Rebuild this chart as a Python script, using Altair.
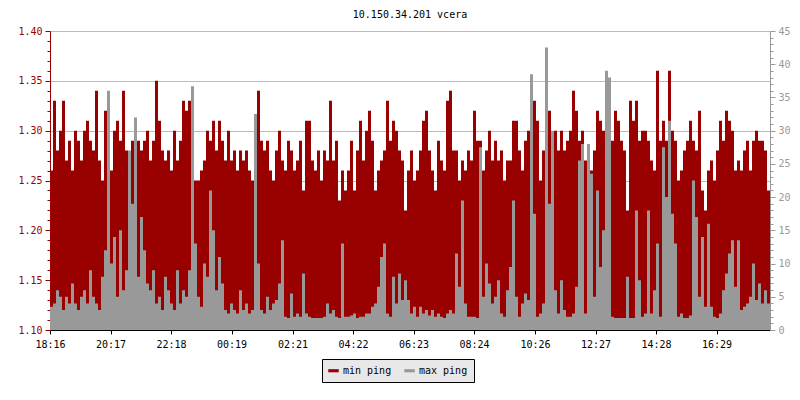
import altair as alt
import pandas as pd

MONO = "DejaVu Sans Mono"
RED = "#990000"
GREY = "#999999"

tick_minutes = [0, 121, 242, 363, 485, 606, 727, 848, 970, 1091, 1212, 1333]
tick_labels = ["18:16", "20:17", "22:18", "00:19", "02:21", "04:22",
               "06:23", "08:24", "10:26", "12:27", "14:28", "16:29"]

sample_step_min = 6

min_ping = [
    1.26, 1.33, 1.28, 1.30, 1.33, 1.27, 1.29, 1.26, 1.30, 1.29, 1.27, 1.30, 1.31, 1.29, 1.28, 1.34, 1.27, 1.25, 1.32, 1.29,
    1.26, 1.30, 1.31, 1.29, 1.34, 1.28, 1.27, 1.29, 1.26, 1.29, 1.28, 1.29, 1.30, 1.27, 1.29, 1.35, 1.31, 1.28, 1.27, 1.28,
    1.26, 1.30, 1.27, 1.29, 1.33, 1.32, 1.33, 1.27, 1.25, 1.25, 1.26, 1.27, 1.30, 1.29, 1.31, 1.28, 1.31, 1.29, 1.27, 1.30,
    1.27, 1.28, 1.26, 1.28, 1.27, 1.28, 1.26, 1.25, 1.27, 1.34, 1.29, 1.28, 1.29, 1.26, 1.25, 1.28, 1.30, 1.27, 1.26, 1.29,
    1.28, 1.26, 1.27, 1.29, 1.24, 1.31, 1.31, 1.27, 1.26, 1.28, 1.25, 1.28, 1.27, 1.33, 1.27, 1.29, 1.23, 1.26, 1.24, 1.26,
    1.29, 1.24, 1.28, 1.31, 1.27, 1.30, 1.32, 1.29, 1.24, 1.26, 1.27, 1.28, 1.33, 1.29, 1.31, 1.30, 1.28, 1.27, 1.22, 1.26,
    1.28, 1.25, 1.26, 1.28, 1.31, 1.32, 1.28, 1.26, 1.24, 1.29, 1.27, 1.26, 1.33, 1.34, 1.28, 1.28, 1.25, 1.27, 1.26, 1.28,
    1.27, 1.32, 1.29, 1.29, 1.26, 1.28, 1.30, 1.27, 1.29, 1.27, 1.28, 1.25, 1.27, 1.27, 1.31, 1.31, 1.28, 1.26, 1.29, 1.30,
    1.27, 1.33, 1.31, 1.25, 1.28, 1.29, 1.32, 1.25, 1.30, 1.28, 1.30, 1.28, 1.29, 1.30, 1.34, 1.32, 1.29, 1.30, 1.27, 1.27,
    1.26, 1.28, 1.32, 1.31, 1.30, 1.29, 1.27, 1.29, 1.32, 1.31, 1.29, 1.28, 1.22, 1.33, 1.31, 1.33, 1.29, 1.30, 1.30, 1.29,
    1.27, 1.26, 1.36, 1.29, 1.31, 1.29, 1.36, 1.30, 1.29, 1.25, 1.26, 1.28, 1.29, 1.31, 1.29, 1.28, 1.32, 1.24, 1.22, 1.26,
    1.27, 1.25, 1.28, 1.31, 1.29, 1.32, 1.31, 1.30, 1.26, 1.27, 1.26, 1.28, 1.29, 1.26, 1.29, 1.30, 1.29, 1.29, 1.28, 1.24,
]

max_ping = [
    3.5, 4, 6, 5, 3, 5, 4, 7, 4, 3, 5, 6, 4, 9, 5, 4, 3, 8, 12, 36,
    10, 14, 5, 15, 6, 9, 27, 19, 32, 8, 17, 12, 7, 6, 9, 4, 5, 3, 8, 6,
    4, 3, 9, 4, 6, 5, 9, 36.7, 13, 5, 3.5, 10, 8, 21, 15, 6, 11, 7, 3, 2.5,
    4, 3, 2.5, 6, 3, 4, 2.5, 3, 32.5, 10, 3, 2.5, 5, 3, 4, 4.5, 7, 13.5, 2, 1.8,
    5.5, 2, 2.5, 2, 8.5, 2.5, 2, 1.8, 1.8, 1.8, 1.8, 2, 4, 2.5, 3, 2, 1.8, 13, 2, 2,
    2.2, 2.5, 1.8, 2, 2, 2.5, 2.5, 3.5, 4, 6.5, 11, 13, 2.5, 2, 8, 4, 8.5, 4.5, 7.5, 4.5,
    2.5, 3.5, 2, 3.5, 2.5, 3, 2.2, 3, 2, 2.5, 2, 1.8, 2.5, 3, 2.5, 11.5, 6.5, 19.5, 4, 2,
    2, 2, 1.8, 27.5, 5, 10, 7, 4, 5, 7.5, 2.5, 2, 6, 9.5, 19.5, 5, 2, 4, 5.5, 4.5,
    38.5, 17.5, 2, 2.5, 4, 42.5, 19, 30, 6, 2.5, 7.5, 3, 2, 2, 2.5, 6.5, 25.5, 28, 2.5, 28,
    23.5, 5, 21, 9.5, 15, 39, 38, 2, 1.8, 1.8, 1.8, 1.8, 8, 1.8, 1.8, 18, 7.5, 2, 2.5, 18,
    2.5, 6, 13, 2, 27.5, 20, 31.5, 17.5, 13, 2, 2.5, 1.8, 1.8, 2.2, 22.5, 17, 5, 14, 3.5, 16,
    3.5, 2, 1.8, 2.5, 6, 8.5, 11.5, 13.5, 6.5, 13.5, 3, 3.5, 4, 5, 10, 4.5, 7, 4, 6, 4,
]

n = len(min_ping)
minutes = [i * sample_step_min for i in range(n)] + [n * sample_step_min]
df = pd.DataFrame({
    "t": minutes,
    "minp": min_ping + [min_ping[-1]],
    "maxp": max_ping + [max_ping[-1]],
})

left_vals = [round(1.10 + 0.01 * i, 2) for i in range(31)]
right_vals = list(range(46))

tick_lbl_js = "[" + ",".join("'%s'" % s for s in tick_labels) + "]"
tick_min_js = "[" + ",".join(str(v) for v in tick_minutes) + "]"

x_enc = alt.X(
    "t:Q",
    scale=alt.Scale(domain=[0, n * sample_step_min], nice=False, zero=False),
    axis=alt.Axis(
        title=None, values=tick_minutes,
        labelExpr=tick_lbl_js + "[indexof(" + tick_min_js + ", datum.value)]",
        labelFont=MONO, labelFontSize=10, labelColor="black",
        labelFlush=False, labelOverlap=False, labelBound=False,
        domainColor="black", tickColor="black", tickSize=4, labelPadding=5,
        grid=False,
    ),
)

color_scale = alt.Scale(domain=["min ping", "max ping"], range=[RED, GREY])

min_layer = alt.Chart(df).mark_area(interpolate="step-after", opacity=1).encode(
    x=x_enc,
    y=alt.Y(
        "minp:Q",
        scale=alt.Scale(domain=[1.10, 1.40], nice=False, zero=False),
        axis=alt.Axis(
            title=None, orient="left", values=left_vals,
            labelExpr="round(datum.value*100) % 5 == 0 ? format(datum.value, '.2f') : ''",
            labelFont=MONO, labelFontSize=10, labelColor=RED,
            domainColor=RED, tickColor=RED,
            tickSize={"condition": {"test": "round(datum.value*100) % 5 == 0", "value": 5}, "value": 3},
            labelPadding=3, labelFlush=False, labelOverlap=False,
            grid=True, gridColor="#bbbbbb",
            gridOpacity={"condition": {"test": "round(datum.value*100) % 5 == 0", "value": 1}, "value": 0},
        ),
    ),
    y2=alt.datum(1.10),
    color=alt.Color(
        "s:N", scale=color_scale,
        legend=alt.Legend(
            title=None, orient="none", legendX=272, legendY=328,
            direction="horizontal", fillColor="#e8e8e8", strokeColor="#000000",
            padding=6, symbolType="M -1 -0.3 L 1 -0.3 L 1 0.3 L -1 0.3 Z",
            symbolSize=110, symbolStrokeWidth=0,
            labelFont=MONO, labelFontSize=10, labelColor="black",
            columnPadding=12, labelOffset=4,
        ),
    ),
).transform_calculate(s="'min ping'")

max_layer = alt.Chart(df).mark_area(interpolate="step-after", opacity=1).encode(
    x=x_enc,
    y=alt.Y(
        "maxp:Q",
        scale=alt.Scale(domain=[0, 45], nice=False),
        axis=alt.Axis(
            title=None, orient="right", values=right_vals,
            labelExpr="datum.value % 5 == 0 ? datum.label : ''",
            labelFont=MONO, labelFontSize=10, labelColor=GREY,
            domainColor=GREY, tickColor=GREY,
            tickSize={"condition": {"test": "datum.value % 5 == 0", "value": 5}, "value": 3},
            labelPadding=3, labelFlush=False, labelOverlap=False, grid=False,
        ),
    ),
    y2=alt.datum(0),
    color=alt.Color("s:N", scale=color_scale),
).transform_calculate(s="'max ping'")

chart = alt.layer(min_layer, max_layer).resolve_scale(y="independent").properties(
    width=720,
    height=299,
    title=alt.TitleParams(
        "10.150.34.201 vcera", font=MONO, fontSize=10, fontWeight="normal",
        color="black", anchor="middle", offset=6,
    ),
    autosize=alt.AutoSizeParams(type="none"),
    padding={"left": 42, "top": 23, "right": 22, "bottom": 62},
    background="white",
).configure_view(stroke=None)

chart.save("out.html", embed_options={"renderer": "svg", "actions": False})
